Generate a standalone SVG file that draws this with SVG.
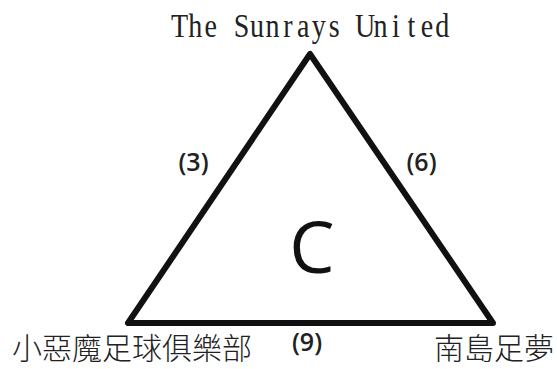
<svg xmlns="http://www.w3.org/2000/svg" width="557" height="369" viewBox="0 0 557 369">
<style>
.title{font-family:"Liberation Serif","DejaVu Serif",serif;font-size:33px;fill:#222}
.cjk{font-family:"Noto Sans CJK TC","Noto Sans CJK SC",sans-serif;font-size:30px;font-weight:300;fill:#222}
.num{font-family:"Open Sans","Noto Sans",sans-serif;font-size:25px;font-weight:600;fill:#222}
.big{font-family:"Open Sans","Noto Sans",sans-serif;font-size:72px;fill:#111}
.edge{fill:none;stroke:#111;stroke-width:6;stroke-linejoin:round}
</style>
<rect width="557" height="369" fill="#fff"/>
<g id="connectors">
<polygon class="edge" points="310,54 128,323 493,323"/>
</g>
<g id="node-top">
<text class="title" transform="scale(0.85 1)" y="37.5" text-anchor="middle" x="211.4 229.6 247.8 265.9 284.1 302.3 320.5 338.6 356.8 375.0 393.1 411.3 429.5 447.7 465.8 484.0 502.2 520.3">The Sunrays United</text>
</g>
<g id="node-left">
<text class="cjk" x="12" y="359">小惡魔足球俱樂部</text>
</g>
<g id="node-right">
<text class="cjk" x="434" y="359">南島足夢</text>
</g>
<g id="labels">
<text class="num" x="193.5" y="171" text-anchor="middle">(3)</text>
<text class="num" x="421.5" y="171" text-anchor="middle">(6)</text>
<text class="num" x="307" y="351" text-anchor="middle">(9)</text>
<text class="big" x="312" y="273" text-anchor="middle">C</text>
</g>
</svg>
